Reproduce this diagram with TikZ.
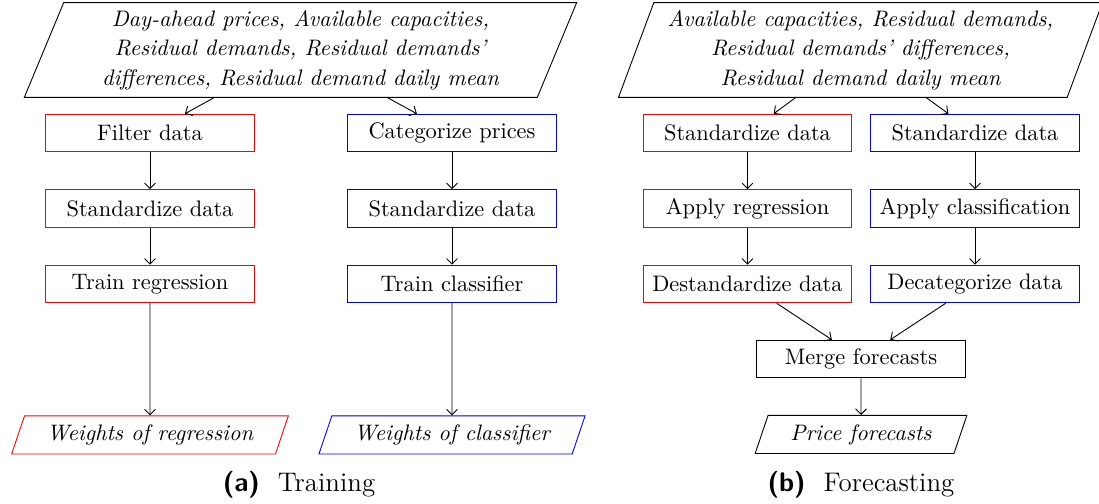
\documentclass[tikz,border=0pt]{standalone}
\usepackage{tikz}
\usetikzlibrary{shapes.geometric}
\usetikzlibrary{arrows,positioning}

\begin{document}
\begin{tikzpicture}[x=0.4464pt,y=0.4464pt,>=angle 90]

	\tikzstyle{proc}=[rectangle,draw,minimum width=93pt,minimum height=16.8pt,node distance=33.7pt]
	\tikzstyle{regbox}=[proc,draw=red]
	\tikzstyle{clfbox}=[proc,draw=blue]
	\tikzstyle{io}=[trapezium,trapezium left angle=70,trapezium right angle=110,trapezium stretches=true,draw,inner xsep=10pt,minimum height=17pt,font=\itshape]
	\tikzstyle{inbox}=[io,inner xsep=4pt,minimum height=42pt,align=center,font=\fontsize{10}{13.2}\selectfont\itshape]
	\tikzstyle{caption}=[anchor=base,font=\fontsize{12}{14.4}\selectfont]

	\useasboundingbox (0,0) rectangle (1099,504);

	% (a) training
	\node [inbox,minimum width=247pt] (inA) at (300.5,454)
		{Day-ahead prices, Available capacities,\\ Residual demands, Residual demands'\\ differences, Residual demand daily mean};
	\node [regbox]	(filter)	at (150,371)		{Filter data};
	\node [regbox]	(stdA)		[below of=filter]	{Standardize data};
	\node [regbox]	(trainreg)	[below of=stdA]		{Train regression};
	\node [clfbox]	(categ)		at (452,371)		{Categorize prices};
	\node [clfbox]	(stdB)		[below of=categ]	{Standardize data};
	\node [clfbox]	(trainclf)	[below of=stdB]		{Train classifier};
	\node [io,draw=red]		(wreg)		[below of=trainreg,node distance=67.4pt]	{Weights of regression};
	\node [io,draw=blue]	(wclf)		[below of=trainclf,node distance=67.4pt]	{Weights of classifier};

	\node [caption] (capA) at (299,12) {\textsf{\textbf{(a)}}\hspace{8pt}Training};

	\path [->]	(inA) edge (filter) edge (categ)
		(filter) edge (stdA)
		(stdA) edge (trainreg)
		(trainreg) edge (wreg)
		(categ) edge (stdB)
		(stdB) edge (trainclf)
		(trainclf) edge (wclf);

	% (b) forecasting
	\node [inbox,minimum width=216.5pt] (inB) at (860.5,454)
		{Available capacities, Residual demands,\\ Residual demands' differences,\\ Residual demand daily mean};
	\node [regbox]	(stdC)		at (747.5,371)		{Standardize data};
	\node [regbox]	(applyreg)	[below of=stdC]		{Apply regression};
	\node [regbox]	(destd)		[below of=applyreg]	{Destandardize data};
	\node [clfbox]	(stdD)		at (975,371)		{Standardize data};
	\node [clfbox]	(applyclf)	[below of=stdD]		{Apply classification};
	\node [clfbox]	(decat)		[below of=applyclf]	{Decategorize data};
	\node [proc]	(merge)		at (861,145)		{Merge forecasts};
	\node [io,minimum width=92pt]	(price)	[below of=merge,node distance=33.7pt]	{Price forecasts};

	\node [caption] (capB) at (861,12) {\textsf{\textbf{(b)}}\hspace{8pt}Forecasting};

	\path [->]	(inB) edge (stdC) edge (stdD)
		(stdC) edge (applyreg)
		(applyreg) edge (destd)
		(destd) edge (merge)
		(stdD) edge (applyclf)
		(applyclf) edge (decat)
		(decat) edge (merge)
		(merge) edge (price);
\end{tikzpicture}
\end{document}
